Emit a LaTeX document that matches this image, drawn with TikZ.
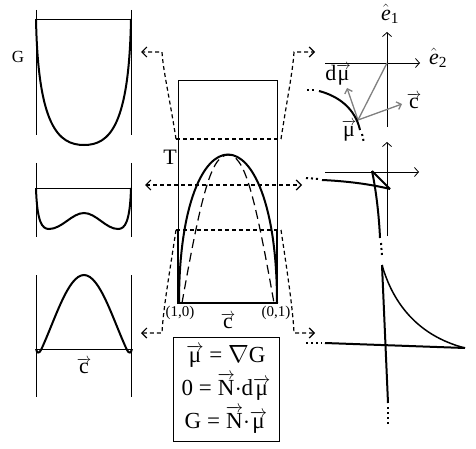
\documentclass[tikz,border=0pt]{standalone}
\usepackage{amsmath}
\usepackage{fontspec}
\setmainfont{Liberation Serif}
\usetikzlibrary{arrows.meta,positioning,calc}
\definecolor{ink}{RGB}{0,0,0}
\definecolor{soft}{RGB}{128,128,128}
\tikzset{
  every picture/.style={color=ink, line width=0.8pt},
  frame/.style={line width=0.8pt},
  curve/.style={line width=2pt},
  thinner/.style={line width=1.5pt},
  tie/.style={dash pattern=on 4pt off 3pt, line width=1.2pt, -{Straight Barb[length=5pt,width=10pt,line width=1.2pt]}},
  spin/.style={dash pattern=on 9pt off 5pt, line width=1.2pt},
  axis/.style={line width=0.8pt, -{Straight Barb[length=4pt,width=9pt]}},
  grey/.style={color=soft, line width=1.3pt},
  greyarrow/.style={grey, -{Straight Barb[length=4pt,width=8pt]}},
  tail/.style={dash pattern=on 2pt off 3pt, line width=2pt},
  lbl/.style={font=\fontsize{22}{24}\selectfont, inner sep=1pt},
  mid/.style={font=\fontsize{17}{19}\selectfont, inner sep=1pt},
  tiny/.style={font=\fontsize{15}{17}\selectfont, inner sep=1pt},
}
\makeatletter
\newcommand{\vecfill}{$\m@th\scriptstyle\smash-\mkern-7mu\cleaders\hbox{$\scriptstyle\mkern-2mu\smash-\mkern-2mu$}\hfill\mkern-7mu\mathord\rightarrow$}
\newcommand{\vc}[1]{\vbox{\offinterlineskip\halign{\hfil##\hfil\cr\vecfill\cr\noalign{\kern0.5pt}#1\cr}}}
\makeatother
\begin{document}
\begin{tikzpicture}[x=1pt, y=-1pt]
  \useasboundingbox (0,0) rectangle (476,449);
  % left column: G(c) at three temperatures
  \draw[frame] (36,10) -- (36,135) (131,10) -- (131,135) (36,19) -- (131,19);
  \draw[curve] (36,19) .. controls (38,125) and (58,145) .. (84,145) .. controls (110,145) and (129,125) .. (131,19);
  \node[mid] (glabel) at (18,57) {G};
  \draw[frame] (36,163) -- (36,237) (131,163) -- (131,237) (36,188) -- (131,188);
  \draw[curve] (36,188) .. controls (37,222) and (42,229) .. (49,229) .. controls (62,229) and (72,213) .. (84,213) .. controls (96,213) and (106,229) .. (118,229) .. controls (125,229) and (130,222) .. (131,188);
  \draw[frame] (36,275) -- (36,397) (131,275) -- (131,397) (36,349) -- (131,349);
  \draw[curve] (36,349) .. controls (37,353) and (39,354) .. (41,350) .. controls (55,320) and (68,275) .. (84,275) .. controls (100,275) and (113,320) .. (127,350) .. controls (129,354) and (131,353) .. (132,349);
  \node[lbl] (cleft) at (84,366) {\vc{c}};
  % phase diagram
  \draw[frame] (178,80) rectangle (277,303);
  \draw[curve] (178,230) -- (178,303) -- (277,303) -- (277,230);
  \draw[curve] (179,303) .. controls (179,105) and (277,105) .. (277,303);
  \draw[spin] (182,303) .. controls (202,190) and (212,155) .. (228,155) .. controls (244,155) and (254,190) .. (274,303);
  \node[lbl] (tlabel) at (170,157) {T};
  \node[tiny] (pa) at (180,313) {(1,0)};
  \node[tiny] (pb) at (276,313) {(0,1)};
  \node[lbl] (cmid) at (228,321) {\vc{c}};
  \coordinate (ul) at (176,139);
  \coordinate (ur) at (281,139);
  \coordinate (ll) at (176,230);
  \coordinate (lr) at (281,230);
  \draw[tie, -] (ul) -- (ur);
  \draw[tie, -] (ll) -- (lr);
  \draw[tie] (ul) .. controls (170,100) and (163,70) .. (162,52) -- (141,52);
  \draw[tie] (ur) .. controls (287,100) and (293,70) .. (294,52) -- (315,52);
  \draw[tie] (ll) .. controls (170,270) and (163,310) .. (162,333) -- (141,333);
  \draw[tie] (lr) .. controls (287,270) and (293,310) .. (294,333) -- (315,333);
  \draw[tie, {Straight Barb[length=5pt,width=10pt,line width=1.2pt]}-{Straight Barb[length=5pt,width=10pt,line width=1.2pt]}] (145,185) -- (302,185);
  \node[draw, frame, minimum width=106pt, minimum height=104pt, inner sep=2pt, align=center, font=\fontsize{23}{33}\selectfont] (eqs) at (226,389)
    {\vc{μ} = $\nabla$G\\ 0 = \vc{N}$\cdot$d\vc{μ}\\ G = \vc{N}$\cdot$\vc{μ}};
  % right column: G(mu) projections
  \coordinate (o1) at (387,63);
  \draw[axis] (387,127) -- (387,32);
  \draw[axis] (325,63) -- (420,63);
  \node[lbl] (e1) at (390,14) {$\hat{\textit{e}}_{\text{1}}$};
  \node[lbl] (e2) at (438,58) {$\hat{\textit{e}}_{\text{2}}$};
  \coordinate (p) at (358,120);
  \draw[grey] (p) -- (o1);
  \draw[greyarrow] (p) -- (347,88) coordinate (dmu);
  \draw[greyarrow] (p) -- (402,104) coordinate (cv);
  \draw[curve] (319,91) .. controls (338,96) and (355,108) .. (360,130);
  \draw[tail] (307,90) -- (315,90);
  \draw[tail] (362,134) -- (364,143);
  \node[lbl] (dmulabel) at (338,75) {d\vc{μ}};
  \node[lbl] (mulabel) at (349,131) {\vc{μ}};
  \node[lbl] (clabel) at (414,101) {\vc{c}};
  \draw[axis] (387,236) -- (387,142);
  \draw[axis] (325,172) -- (419,172);
  \draw[curve] (322,180) .. controls (345,181) and (370,184) .. (390,189);
  \draw[curve] (372,171) -- (390,189);
  \draw[curve] (372,171) .. controls (376,190) and (379,215) .. (380,238);
  \draw[tail] (306,178) -- (319,179);
  \draw[tail] (381,243) -- (382,256);
  \draw[curve] (382,265) -- (388,403);
  \draw[tail] (388,407) -- (388,425);
  \draw[curve] (325,343) -- (465,348);
  \draw[tail] (306,343) -- (322,343);
  \draw[thinner] (382,265) .. controls (392,300) and (415,335) .. (465,348);
\end{tikzpicture}
\end{document}
